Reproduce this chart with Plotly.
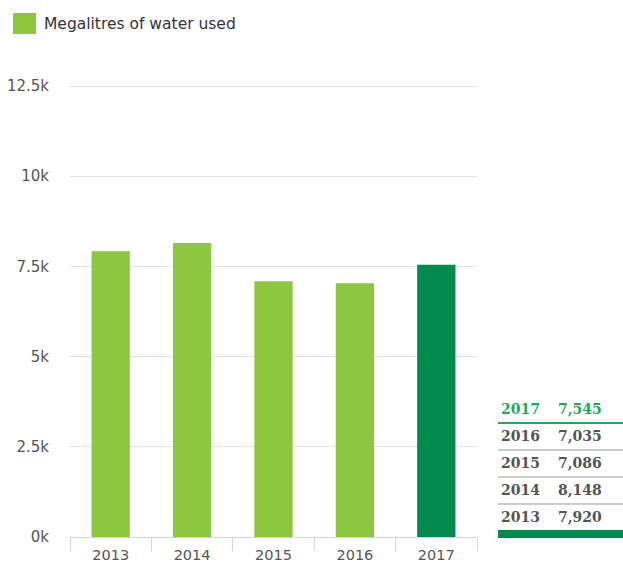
import plotly.graph_objects as go

# 用水量（百万升）
YEARS = ["2013", "2014", "2015", "2016", "2017"]
WATER_USED = [7920, 8148, 7086, 7035, 7545]
Y_TICKS = [0, 2500, 5000, 7500, 10000, 12500]
Y_TICK_TEXT = ["0k", "2.5k", "5k", "7.5k", "10k", "12.5k"]

LIGHT_GREEN = "#8dc63f"
DARK_GREEN = "#008a4d"
TEXT_GREEN = "#1fa85a"
AXIS_COLOR = "#ccd6eb"
GRID_COLOR = "#e3e3e3"
LABEL_COLOR = "#555555"

W, H = 623, 567
L, R, T, B = 70, 477, 76, 537
Y_TOP = 12500 * (B - T) / (B - 86)  # 12.5k 网格线落在 y=86


def px_x(p):
    return (p - L) / (R - L)


def px_y(p):
    return (B - p) / (B - T)


colors = [DARK_GREEN if y == YEARS[-1] else LIGHT_GREEN for y in YEARS]

fig = go.Figure(
    go.Bar(
        x=YEARS,
        y=WATER_USED,
        marker=dict(color=colors, line=dict(width=0)),
        width=0.47,
        showlegend=False,
        hoverinfo="x+y",
    )
)

fig.update_layout(
    width=W,
    height=H,
    plot_bgcolor="white",
    paper_bgcolor="white",
    margin=dict(l=L, r=W - R, t=T, b=H - B),
    font=dict(family="DejaVu Sans", color=LABEL_COLOR, size=15),
)
fig.update_xaxes(
    type="category",
    automargin=False,
    tickson="boundaries",
    ticks="outside",
    ticklen=13,
    tickcolor=AXIS_COLOR,
    showline=True,
    linecolor=AXIS_COLOR,
    linewidth=1,
    showgrid=False,
    ticklabelstandoff=5,
    tickfont=dict(size=14.5, color=LABEL_COLOR),
)
fig.update_yaxes(
    range=[0, Y_TOP],
    automargin=False,
    tickvals=Y_TICKS,
    ticktext=Y_TICK_TEXT,
    showgrid=True,
    gridcolor=GRID_COLOR,
    zeroline=False,
    ticks="",
    ticklabelstandoff=20,
    tickfont=dict(size=15, color=LABEL_COLOR),
)

# 图例（手绘大色块）
fig.add_shape(type="rect", xref="paper", yref="paper",
              x0=px_x(13), x1=px_x(36), y0=px_y(34), y1=px_y(13),
              fillcolor=LIGHT_GREEN, line=dict(width=0))
fig.add_annotation(text="Megalitres of water used", xref="paper", yref="paper",
                   x=px_x(42), y=px_y(24), xanchor="left", yanchor="middle",
                   showarrow=False, font=dict(size=15.5, color="#333340"))

# 右侧数值表
row_y = [409, 436, 463, 490, 517]
for i, (yr, val) in enumerate(zip(YEARS[::-1], WATER_USED[::-1])):
    c = TEXT_GREEN if i == 0 else "#555555"
    yy = px_y(row_y[i])
    fig.add_annotation(text=f"<b>{yr}</b>", xref="paper", yref="paper",
                       x=px_x(499), y=yy, xanchor="left", yanchor="middle",
                       showarrow=False, font=dict(family="DejaVu Serif", size=14, color=c))
    fig.add_annotation(text=f"<b>{val:,}</b>", xref="paper", yref="paper",
                       x=px_x(556), y=yy, xanchor="left", yanchor="middle",
                       showarrow=False, font=dict(family="DejaVu Serif", size=14, color=c))
    if i < len(YEARS) - 1:
        ly = px_y(row_y[i] + 14)
        fig.add_shape(type="line", xref="paper", yref="paper",
                      x0=px_x(498), x1=px_x(623), y0=ly, y1=ly,
                      line=dict(color=TEXT_GREEN if i == 0 else "#bbbbbb",
                                width=2 if i == 0 else 1.5))
fig.add_shape(type="rect", xref="paper", yref="paper",
              x0=px_x(498), x1=px_x(623), y0=px_y(538), y1=px_y(530),
              fillcolor=DARK_GREEN, line=dict(width=0))

fig.write_html("out.html", config={"displayModeBar": False},
               post_script="document.body.style.margin='0px';")
